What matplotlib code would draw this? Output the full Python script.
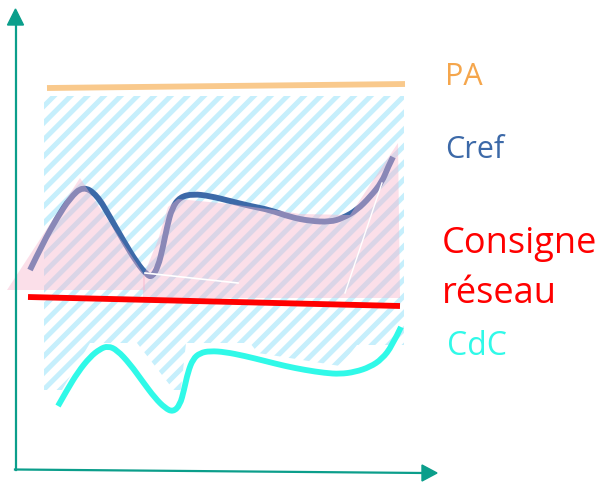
import matplotlib
matplotlib.use("Agg")
import matplotlib.pyplot as plt
from matplotlib.patches import Polygon, Rectangle, PathPatch
from matplotlib.path import Path

# ---------------- data (pixel coordinates of the schematic) ----------------
cref_x = [30, 43, 57, 70, 83, 97, 110, 123, 137, 147, 152, 158, 163, 167, 172, 180,
          193, 210, 230, 250, 270, 290, 310, 330, 343, 357, 370, 382, 388, 393]
cref_y = [270, 243, 218, 198, 186, 195, 217, 240, 263, 275, 277, 267, 247, 227, 208, 197,
          194, 196, 201, 206, 210, 217, 221, 222, 218, 210, 197, 182, 167, 157]

cdc_x = [58, 67, 78, 90, 100, 108, 117, 130, 143, 155, 165, 173, 180, 184, 188, 193,
         200, 210, 225, 245, 265, 285, 305, 325, 340, 355, 370, 382, 392, 401]
cdc_y = [406, 390, 372, 357, 349, 346, 350, 364, 382, 398, 408, 412, 405, 390, 372, 359,
         353, 351, 352, 356, 361, 366, 370, 373, 374, 372, 367, 359, 346, 327]

pa_x = [47, 405]
pa_y = [88, 84]

consigne_x = [28, 400]
consigne_y = [297, 306]

pink_left_x = [7, 80, 145, 145]
pink_left_y = [290, 178, 276, 290]
pink_right_x = [143, 158, 168, 178, 230, 275, 300, 350, 398, 400, 143]
pink_right_y = [277, 240, 207, 199, 204, 210, 214, 215, 143, 298, 298]

mask_x = [56, 90, 137, 180, 186, 250, 258, 340, 357, 406, 406, 56]
mask_y = [400, 343, 343, 398, 343, 343, 353, 366, 345, 345, 402, 402]

labels = ["PA", "Cref", "Consigne", "réseau", "CdC"]


def smooth_path(xs, ys):
    """Quadratic-Bezier path using the given points as control points."""
    pts = list(zip(xs, ys))
    verts = [pts[0]]
    codes = [Path.MOVETO]
    for i in range(1, len(pts) - 1):
        mid = ((pts[i][0] + pts[i + 1][0]) / 2, (pts[i][1] + pts[i + 1][1]) / 2)
        if i == len(pts) - 2:
            mid = pts[-1]
        verts += [pts[i], mid]
        codes += [Path.CURVE3, Path.CURVE3]
    return Path(verts, codes)


# ---------------- figure ----------------
W, H = 603, 484
fig = plt.figure(figsize=(W / 100, H / 100), dpi=100)
ax = fig.add_axes([0, 0, 1, 1])
ax.set_xlim(0, W)
ax.set_ylim(H, 0)
ax.axis("off")

plt.rcParams["hatch.linewidth"] = 3.6
hatch = Rectangle((44, 96), 360, 294, facecolor="none", edgecolor="#c6effc",
                  hatch="//", linewidth=0, zorder=1)
ax.add_patch(hatch)

ax.add_patch(Polygon(list(zip(mask_x, mask_y)), closed=True, facecolor="white",
                     edgecolor="none", zorder=2))

ax.add_patch(PathPatch(smooth_path(cref_x, cref_y), facecolor="none", edgecolor="#3c69a8",
                       lw=4.2, capstyle="butt", joinstyle="round", zorder=3))

for px, py in [(pink_left_x, pink_left_y), (pink_right_x, pink_right_y)]:
    ax.add_patch(Polygon(list(zip(px, py)), closed=True, facecolor="#f7b3cc",
                         alpha=0.42, edgecolor="none", zorder=4))

# thin white seams between the pink shapes
ax.plot([145, 238], [273, 283], color="white", lw=1.2, zorder=5)
ax.plot([382, 345], [183, 293], color="white", lw=1.0, zorder=5)

ax.plot(consigne_x, consigne_y, color="#ff0000", lw=4.2, solid_capstyle="butt", zorder=6)
ax.plot(pa_x, pa_y, color="#f9c98c", lw=4.2, solid_capstyle="butt", zorder=6)
ax.add_patch(PathPatch(smooth_path(cdc_x, cdc_y), facecolor="none", edgecolor="#30f9e8",
                       lw=4.2, capstyle="butt", joinstyle="round", zorder=6))

# axes arrows
axc = "#0b9e8b"
ax.plot([15.5, 15.5], [470, 22], color=axc, lw=1.6, zorder=7)
ax.add_patch(Polygon([(7.5, 25), (23.5, 25), (15.5, 9)], closed=True, color=axc, zorder=7))
ax.plot([15, 424], [469.5, 473], color=axc, lw=1.6, zorder=7)
ax.add_patch(Polygon([(422, 465), (422, 481), (437, 473)], closed=True, color=axc, zorder=7))

font = "Open Sans"
ax.text(445, 85, labels[0], color="#f5a64c", fontsize=22, family=font, va="baseline", ha="left")
ax.text(445, 158, labels[1], color="#3c69a8", fontsize=22, family=font, va="baseline", ha="left")
ax.text(442, 253, labels[2], color="#ff0000", fontsize=26, family=font, va="baseline", ha="left")
ax.text(442, 303, labels[3], color="#ff0000", fontsize=26, family=font, va="baseline", ha="left")
ax.text(447, 355, labels[4], color="#30f9e8", fontsize=23, family=font, va="baseline", ha="left")

fig.savefig("out.png", dpi=100)
